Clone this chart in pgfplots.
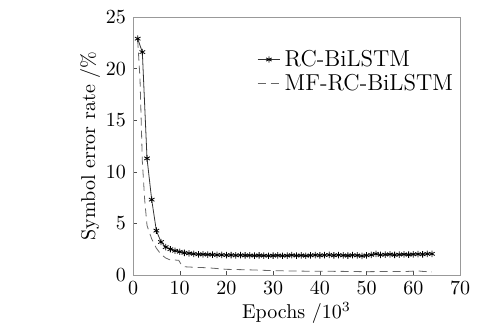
\documentclass[border=0pt]{standalone}
\usepackage{pgfplots}
\pgfplotsset{compat=1.18}
\begin{document}
\begin{tikzpicture}
\begin{axis}[
  scale only axis,
  width=163.5pt, height=129pt,
  xmin=0, xmax=70, ymin=0, ymax=25,
  xtick={0,10,...,70}, ytick={0,5,...,25},
  axis line style={gray!80},
  tick style={black!70},
  xtick pos=bottom, ytick pos=left,
  tick align=inside,
  major tick length=2pt,
  xlabel={Epochs /$10^3$},
  ylabel={Symbol error rate /\%},
  xlabel style={yshift=3pt},
  ylabel style={yshift=-4pt},
  legend style={draw=none, fill=none, at={(0.36,0.905)}, anchor=north west, font=\fontsize{11.5}{12}\selectfont, row sep=-1.5pt},
  legend cell align=left,
  legend image code/.code={\draw[mark repeat=2,mark phase=2,#1] plot coordinates {(0cm,0cm) (0.2cm,0cm) (0.4cm,0cm)};},
]
\addplot[black!80, thin, mark=asterisk, mark size=1.6pt, mark options={black, solid}] coordinates {
(1,22.9)(2,21.6)(3,11.3)(4,7.3)(5,4.3)(6,3.2)(7,2.7)(8,2.5)(9,2.35)(10,2.25)
(11,2.15)(12,2.1)(13,2.05)(14,2.0)(15,2.0)(16,1.98)(17,1.97)(18,1.95)(19,1.95)(20,1.92)
(21,1.93)(22,1.9)(23,1.92)(24,1.9)(25,1.9)(26,1.88)(27,1.9)(28,1.88)(29,1.87)(30,1.88)
(31,1.9)(32,1.87)(33,1.88)(34,1.92)(35,1.88)(36,1.9)(37,1.87)(38,1.9)(39,1.93)(40,1.9)
(41,1.92)(42,1.95)(43,1.9)(44,1.93)(45,1.9)(46,1.88)(47,1.92)(48,1.9)(49,1.85)(50,1.9)
(51,1.95)(52,2.05)(53,1.95)(54,1.98)(55,2.0)(56,1.95)(57,1.98)(58,2.0)(59,1.97)(60,2.0)
(61,2.02)(62,2.0)(63,2.05)(64,2.05)
};
\addlegendentry{RC-BiLSTM}
\addplot[black!60, thin, dashed, dash pattern=on 4pt off 2.5pt] coordinates {
(1,22.8)(1.5,19)(2,11)(2.5,7.3)(3,4.8)(4,3.5)(5,2.6)(6,2.0)(7,1.65)(8,1.45)(9,1.45)(9.8,1.42)
(10.4,0.95)(11,0.8)(13,0.75)(16,0.7)(20,0.55)(25,0.5)(30,0.42)(35,0.38)(40,0.36)(45,0.35)
(50,0.32)(55,0.35)(58,0.33)(61,0.4)(62,0.35)(64,0.3)
};
\addlegendentry{MF-RC-BiLSTM}
\end{axis}
\pgfresetboundingbox
\path (current axis.south west) ++(-66.5pt,-25.5pt) coordinate (bl);
\path (current axis.north east) ++(10pt,8.5pt) coordinate (tr);
\path[use as bounding box] (bl) rectangle (tr);
\end{tikzpicture}
\end{document}
